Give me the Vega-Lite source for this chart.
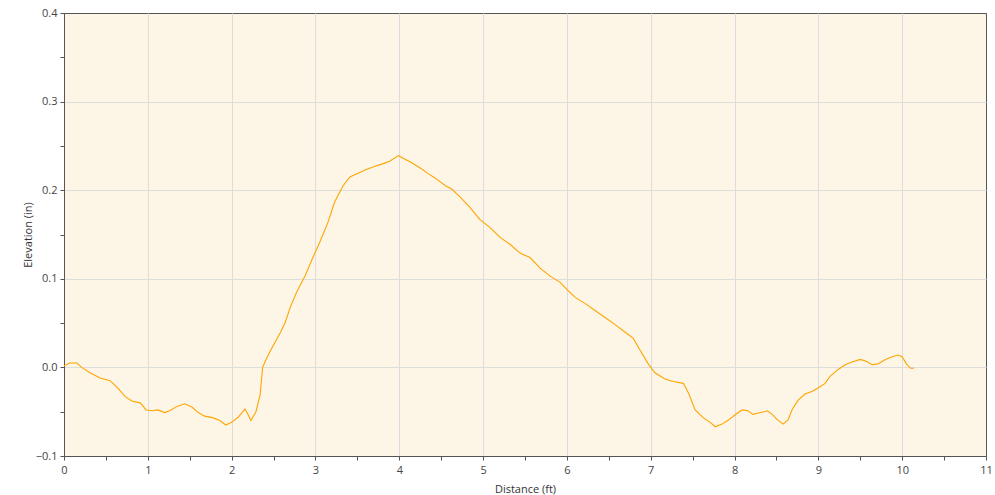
{
  "$schema": "https://vega.github.io/schema/vega-lite/v6.json",
  "width": 922,
  "height": 443,
  "autosize": {"type": "none"},
  "padding": {"left": 64, "top": 13, "right": 9, "bottom": 39},
  "background": "white",
  "config": {
    "view": {"fill": "#fdf5e6", "stroke": "#555555", "strokeWidth": 1},
    "font": "Open Sans"
  },
  "data": {"values": [
    {"d": 0, "e": 0.002}, {"d": 0.07, "e": 0.005}, {"d": 0.155, "e": 0.005}, {"d": 0.21, "e": 0.0},
    {"d": 0.31, "e": -0.006}, {"d": 0.43, "e": -0.012}, {"d": 0.55, "e": -0.015}, {"d": 0.64, "e": -0.023},
    {"d": 0.73, "e": -0.033}, {"d": 0.81, "e": -0.038}, {"d": 0.91, "e": -0.04}, {"d": 0.98, "e": -0.048},
    {"d": 1.05, "e": -0.049}, {"d": 1.12, "e": -0.048}, {"d": 1.2, "e": -0.051}, {"d": 1.26, "e": -0.049},
    {"d": 1.35, "e": -0.044}, {"d": 1.44, "e": -0.041}, {"d": 1.53, "e": -0.045}, {"d": 1.6, "e": -0.051},
    {"d": 1.68, "e": -0.055}, {"d": 1.78, "e": -0.057}, {"d": 1.86, "e": -0.06}, {"d": 1.93, "e": -0.065},
    {"d": 2.0, "e": -0.062}, {"d": 2.08, "e": -0.056}, {"d": 2.16, "e": -0.047}, {"d": 2.2, "e": -0.054},
    {"d": 2.23, "e": -0.06}, {"d": 2.29, "e": -0.05}, {"d": 2.34, "e": -0.031}, {"d": 2.37, "e": 0.0},
    {"d": 2.41, "e": 0.009}, {"d": 2.48, "e": 0.022}, {"d": 2.58, "e": 0.039}, {"d": 2.64, "e": 0.051},
    {"d": 2.7, "e": 0.068}, {"d": 2.78, "e": 0.086}, {"d": 2.88, "e": 0.104}, {"d": 2.96, "e": 0.122},
    {"d": 3.05, "e": 0.141}, {"d": 3.15, "e": 0.164}, {"d": 3.23, "e": 0.187}, {"d": 3.33, "e": 0.205},
    {"d": 3.41, "e": 0.215}, {"d": 3.51, "e": 0.219}, {"d": 3.6, "e": 0.223}, {"d": 3.71, "e": 0.227},
    {"d": 3.81, "e": 0.23}, {"d": 3.89, "e": 0.233}, {"d": 3.99, "e": 0.239}, {"d": 4.07, "e": 0.235},
    {"d": 4.15, "e": 0.231}, {"d": 4.25, "e": 0.225}, {"d": 4.34, "e": 0.219}, {"d": 4.44, "e": 0.213},
    {"d": 4.55, "e": 0.205}, {"d": 4.63, "e": 0.201}, {"d": 4.73, "e": 0.192}, {"d": 4.84, "e": 0.181},
    {"d": 4.96, "e": 0.167}, {"d": 5.08, "e": 0.158}, {"d": 5.2, "e": 0.147}, {"d": 5.32, "e": 0.139},
    {"d": 5.44, "e": 0.129}, {"d": 5.56, "e": 0.124}, {"d": 5.68, "e": 0.112}, {"d": 5.8, "e": 0.103},
    {"d": 5.92, "e": 0.096}, {"d": 6.01, "e": 0.087}, {"d": 6.1, "e": 0.079}, {"d": 6.22, "e": 0.072},
    {"d": 6.34, "e": 0.064}, {"d": 6.46, "e": 0.056}, {"d": 6.58, "e": 0.048}, {"d": 6.69, "e": 0.04},
    {"d": 6.79, "e": 0.033}, {"d": 6.87, "e": 0.02}, {"d": 6.97, "e": 0.004}, {"d": 7.05, "e": -0.006},
    {"d": 7.17, "e": -0.013}, {"d": 7.27, "e": -0.016}, {"d": 7.39, "e": -0.018}, {"d": 7.45, "e": -0.029},
    {"d": 7.53, "e": -0.048}, {"d": 7.63, "e": -0.057}, {"d": 7.71, "e": -0.062}, {"d": 7.77, "e": -0.067},
    {"d": 7.85, "e": -0.064}, {"d": 7.92, "e": -0.06}, {"d": 8.0, "e": -0.054}, {"d": 8.09, "e": -0.048},
    {"d": 8.16, "e": -0.049}, {"d": 8.22, "e": -0.053}, {"d": 8.31, "e": -0.051}, {"d": 8.39, "e": -0.049},
    {"d": 8.45, "e": -0.053}, {"d": 8.51, "e": -0.059}, {"d": 8.58, "e": -0.064}, {"d": 8.64, "e": -0.059},
    {"d": 8.69, "e": -0.047}, {"d": 8.76, "e": -0.037}, {"d": 8.84, "e": -0.03}, {"d": 8.93, "e": -0.027},
    {"d": 9.0, "e": -0.023}, {"d": 9.08, "e": -0.018}, {"d": 9.14, "e": -0.01}, {"d": 9.24, "e": -0.002},
    {"d": 9.32, "e": 0.003}, {"d": 9.4, "e": 0.006}, {"d": 9.5, "e": 0.009}, {"d": 9.57, "e": 0.007},
    {"d": 9.64, "e": 0.003}, {"d": 9.71, "e": 0.004}, {"d": 9.8, "e": 0.009}, {"d": 9.88, "e": 0.012},
    {"d": 9.95, "e": 0.014}, {"d": 10.0, "e": 0.012}, {"d": 10.05, "e": 0.004}, {"d": 10.1, "e": -0.001},
    {"d": 10.14, "e": -0.001}
  ]},
  "mark": {"type": "line", "color": "#ffa500", "strokeWidth": 1.1, "interpolate": "linear"},
  "encoding": {
    "x": {
      "field": "d", "type": "quantitative",
      "scale": {"domain": [0, 11], "nice": false, "zero": false},
      "axis": {
        "title": "Distance (ft)",
        "values": [0, 0.5, 1, 1.5, 2, 2.5, 3, 3.5, 4, 4.5, 5, 5.5, 6, 6.5, 7, 7.5, 8, 8.5, 9, 9.5, 10, 10.5, 11],
        "labelExpr": "round(datum.value*2) % 2 === 0 ? format(datum.value, 'd') : ''",
        "labelFlush": false,
        "gridColor": "#dddddd",
        "gridOpacity": {"condition": {"test": "round(datum.value*2) % 2 !== 0 || datum.value === 0 || datum.value === 11", "value": 0}, "value": 1},
        "domainColor": "#555555",
        "tickColor": "#555555",
        "tickSize": 4,
        "labelColor": "#444444",
        "labelFontSize": 11,
        "labelPadding": 4,
        "titleColor": "#333333",
        "titleFontSize": 11,
        "titleFontWeight": "normal",
        "titlePadding": 8
      }
    },
    "y": {
      "field": "e", "type": "quantitative",
      "scale": {"domain": [-0.1, 0.4], "nice": false, "zero": false},
      "axis": {
        "title": "Elevation (in)",
        "values": [-0.1, -0.05, 0, 0.05, 0.1, 0.15, 0.2, 0.25, 0.3, 0.35, 0.4],
        "labelExpr": "round(datum.value*20) % 2 === 0 ? format(datum.value, '.1f') : ''",
        "labelFlush": false,
        "gridColor": "#dddddd",
        "gridOpacity": {"condition": {"test": "round(datum.value*20) % 2 !== 0 || datum.value < -0.09 || datum.value > 0.39", "value": 0}, "value": 1},
        "domainColor": "#555555",
        "tickColor": "#555555",
        "tickSize": 4,
        "labelColor": "#444444",
        "labelFontSize": 11,
        "labelPadding": 3,
        "titleColor": "#333333",
        "titleFontSize": 11,
        "titleFontWeight": "normal",
        "titlePadding": 2
      }
    }
  }
}
